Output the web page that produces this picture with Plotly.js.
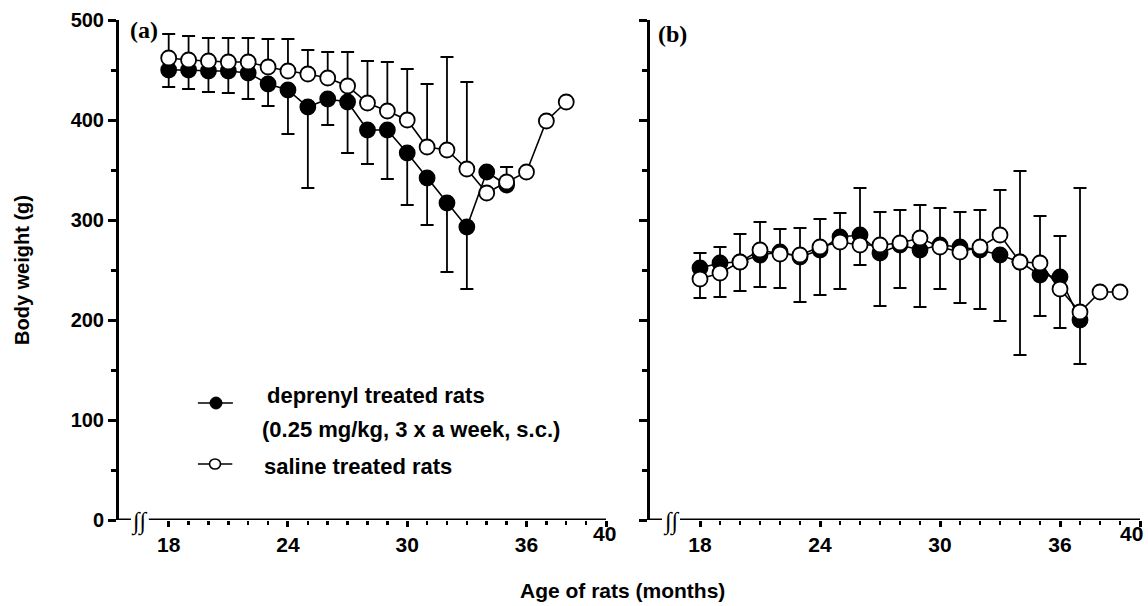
<!DOCTYPE html>
<html>
<head>
<meta charset="utf-8">
<script src="https://cdn.plot.ly/plotly-3.0.1.min.js"></script>
<style>html,body{margin:0;padding:0;background:#fff}</style>
</head>
<body>
<div id="chart" style="width:1148px;height:606px"></div>
<script>
// ---------- Panel (a) ----------
const monthsA_deprenyl = [18,19,20,21,22,23,24,25,26,27,28,29,30,31,32,33,34,35];
const weightA_deprenyl = [450,450,449,449,447,436,430,413,421,418,390,390,367,342,317,293,348,335];
const sdA_deprenyl     = [17,19,21,22,26,22,44,81,26,51,34,49,52,47,69,62,0,0];

const monthsA_saline = [18,19,20,21,22,23,24,25,26,27,28,29,30,31,32,33,34,35,36,37,38];
const weightA_saline = [462,460,459,458,458,453,449,446,442,434,417,409,400,373,370,351,327,338,348,399,418];
const sdA_saline     = [24,24,23,24,24,28,32,24,26,34,42,49,51,63,93,87,0,15,0,0,0];

// ---------- Panel (b) ----------
const monthsB_deprenyl = [18,19,20,21,22,23,24,25,26,27,28,29,30,31,32,33,34,35,36,37];
const weightB_deprenyl = [252,257,258,265,268,263,270,283,285,267,275,270,275,273,270,265,258,245,243,200];
const sdB_deprenyl     = [30,34,29,32,36,45,45,52,30,53,43,57,44,56,59,66,93,41,51,44];

const monthsB_saline = [18,19,20,21,22,23,24,25,26,27,28,29,30,31,32,33,34,35,36,37,38,39];
const weightB_saline = [241,247,258,270,266,265,273,278,275,275,277,282,273,268,273,285,258,257,231,208,228,228];
const sdB_saline     = [26,26,28,28,25,27,28,29,57,33,33,33,39,40,37,45,91,47,53,124,0,0];

// ---------- Axis labels ----------
const xTickVals = [18,24,30,36,40];
const xTickText = ['18','24','30','36',''];
const yTickVals = [0,100,200,300,400,500];
const yTickText = ['0','100','200','300','400','500'];
const legendDeprenyl1 = 'deprenyl treated rats';
const legendDeprenyl2 = '(0.25 mg/kg, 3 x a week, s.c.)';
const legendSaline = 'saline treated rats';

const zeros = n => new Array(n).fill(0);
const BLACK = '#000';

function depTrace(x, y, sd, xa, ya, size) {
  return {
    x: x, y: y, xaxis: xa, yaxis: ya, type: 'scatter', mode: 'lines+markers',
    line: {color: BLACK, width: 1.6},
    marker: {symbol: 'circle', size: size, color: BLACK, line: {color: BLACK, width: 1.8}},
    error_y: {type: 'data', symmetric: false, array: zeros(x.length), arrayminus: sd,
              color: BLACK, thickness: 1.8, width: 6.5},
    showlegend: false, hoverinfo: 'skip'
  };
}
function salTrace(x, y, sd, xa, ya, size) {
  return {
    x: x, y: y, xaxis: xa, yaxis: ya, type: 'scatter', mode: 'lines+markers',
    line: {color: BLACK, width: 1.6},
    marker: {symbol: 'circle', size: size, color: '#fff', line: {color: BLACK, width: 1.8}},
    error_y: {type: 'data', symmetric: false, array: sd, arrayminus: zeros(x.length),
              color: BLACK, thickness: 1.8, width: 6.5},
    showlegend: false, hoverinfo: 'skip'
  };
}

const data = [
  depTrace(monthsA_deprenyl, weightA_deprenyl, sdA_deprenyl, 'x', 'y', 15),
  salTrace(monthsA_saline, weightA_saline, sdA_saline, 'x', 'y', 15),
  depTrace(monthsB_deprenyl, weightB_deprenyl, sdB_deprenyl, 'x2', 'y2', 15),
  salTrace(monthsB_saline, weightB_saline, sdB_saline, 'x2', 'y2', 15)
];

const W = 1148, H = 606;
const xTickFont = {family: 'Liberation Sans, Arial, sans-serif', size: 21, color: BLACK, weight: 'bold'};
const yTickFont = {family: 'Liberation Sans, Arial, sans-serif', size: 20, color: BLACK, weight: 'bold'};
const minorX = [];
for (let m = 19; m <= 39; m++) if (xTickVals.indexOf(m) < 0) minorX.push(m);

function xAxis(domain, anchor) {
  return {
    domain: domain, anchor: anchor, range: [15.5, 40], showline: false, showgrid: false, zeroline: false,
    tickmode: 'array', tickvals: xTickVals, ticktext: xTickText, ticks: 'outside',
    ticklen: 6, tickwidth: 3, tickcolor: BLACK, tickfont: xTickFont,
    minor: {tickmode: 'array', tickvals: minorX, ticks: 'outside', ticklen: 4, tickwidth: 2.5, tickcolor: BLACK, showgrid: false}
  };
}
function yAxis(anchor, showLabels) {
  return {
    domain: [86 / H, 586 / H], anchor: anchor, range: [0, 500], showline: true, linewidth: 3, linecolor: BLACK,
    showgrid: false, zeroline: false, tickmode: 'array', tickvals: yTickVals, ticktext: yTickText,
    showticklabels: showLabels, ticks: 'outside', ticklen: 8, tickwidth: 3, tickcolor: BLACK, tickfont: yTickFont,
    minor: {tickmode: 'linear', tick0: 50, dtick: 100, ticks: 'outside', ticklen: 5, tickwidth: 3, tickcolor: BLACK, showgrid: false}
  };
}

const shapes = [];
const annotations = [];
[['x', 'y', -2], ['x2', 'y2', -9]].forEach(([xa, ya, shift40]) => {
  shapes.push({type: 'line', xref: xa, yref: ya, x0: 15.5, x1: 16.1, y0: 0, y1: 0, line: {color: BLACK, width: 3}});
  shapes.push({type: 'line', xref: xa, yref: ya, x0: 17.0, x1: 40, y0: 0, y1: 0, line: {color: BLACK, width: 3}});
  annotations.push({xref: xa, yref: ya, x: 16.55, y: 0, text: '∫∫', showarrow: false, xanchor: 'center', yanchor: 'middle',
    yshift: -2, font: {family: 'Liberation Serif, DejaVu Serif, serif', size: 24, color: BLACK, style: 'italic'}});
  annotations.push({xref: xa, yref: ya, x: 40, y: 0, text: '40', showarrow: false, xanchor: 'center', yanchor: 'middle',
    xshift: shift40, yshift: -13, font: xTickFont});
});
annotations.push({xref: 'x', yref: 'y', x: 15.95, y: 490, text: '(a)', showarrow: false, xanchor: 'left', yanchor: 'middle',
  font: {family: 'Liberation Serif, Times New Roman, serif', size: 24, color: BLACK, weight: 'bold'}});
annotations.push({xref: 'x2', yref: 'y2', x: 15.8, y: 486, text: '(b)', showarrow: false, xanchor: 'left', yanchor: 'middle',
  font: {family: 'Liberation Serif, Times New Roman, serif', size: 24, color: BLACK, weight: 'bold'}});

// legend (drawn inside panel a)
const legFont = {family: 'Liberation Sans, Arial, sans-serif', size: 22, color: BLACK, weight: 'bold'};
shapes.push({type: 'line', xref: 'x', yref: 'y', x0: 19.47, x1: 21.23, y0: 117, y1: 117, line: {color: BLACK, width: 1.6}});
shapes.push({type: 'circle', xref: 'x', yref: 'y', xsizemode: 'pixel', ysizemode: 'pixel', xanchor: 20.38, yanchor: 117,
  x0: -6, x1: 6, y0: -6, y1: 6, fillcolor: BLACK, line: {color: BLACK, width: 1}});
shapes.push({type: 'line', xref: 'x', yref: 'y', x0: 19.47, x1: 21.2, y0: 56, y1: 56, line: {color: BLACK, width: 1.6}});
shapes.push({type: 'circle', xref: 'x', yref: 'y', xsizemode: 'pixel', ysizemode: 'pixel', xanchor: 20.33, yanchor: 56,
  x0: -5.5, x1: 5.5, y0: -5, y1: 5, fillcolor: '#fff', line: {color: BLACK, width: 1.6}});
annotations.push({xref: 'x', yref: 'y', x: 22.84, y: 125, text: legendDeprenyl1, showarrow: false, xanchor: 'left', yanchor: 'middle', font: legFont});
annotations.push({xref: 'x', yref: 'y', x: 22.59, y: 91, text: legendDeprenyl2, showarrow: false, xanchor: 'left', yanchor: 'middle', font: legFont});
annotations.push({xref: 'x', yref: 'y', x: 22.68, y: 54, text: legendSaline, showarrow: false, xanchor: 'left', yanchor: 'middle', font: legFont});

// axis titles
annotations.push({xref: 'paper', yref: 'paper', x: 22 / W, y: (H - 270) / H, text: 'Body weight (g)', textangle: -90,
  showarrow: false, xanchor: 'center', yanchor: 'middle', font: {family: 'Liberation Sans, Arial, sans-serif', size: 20, color: BLACK, weight: 'bold'}});
annotations.push({xref: 'paper', yref: 'paper', x: 622 / W, y: (H - 590) / H, text: 'Age of rats (months)',
  showarrow: false, xanchor: 'center', yanchor: 'middle', font: {family: 'Liberation Sans, Arial, sans-serif', size: 21, color: BLACK, weight: 'bold'}});

const layout = {
  width: W, height: H, margin: {l: 0, r: 0, t: 0, b: 0},
  paper_bgcolor: '#fff', plot_bgcolor: 'rgba(0,0,0,0)', showlegend: false,
  xaxis: xAxis([119 / W, 606 / W], 'y'),
  yaxis: yAxis('x', true),
  xaxis2: xAxis([650 / W, 1140 / W], 'y2'),
  yaxis2: yAxis('x2', false),
  shapes: shapes, annotations: annotations
};

Plotly.newPlot('chart', data, layout, {staticPlot: true});
</script>
</body>
</html>
